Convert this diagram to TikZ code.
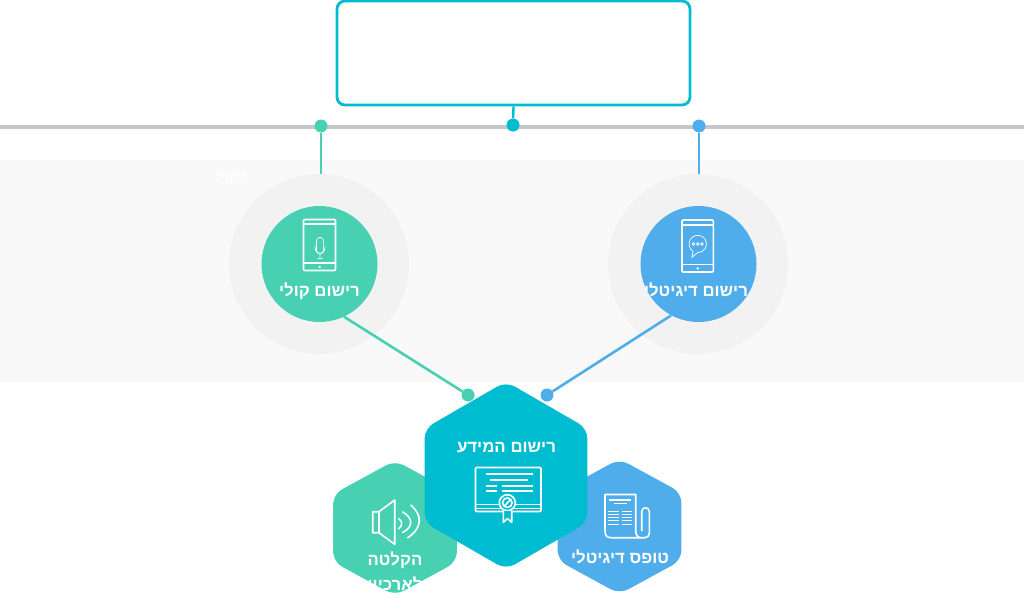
\documentclass[tikz,border=0pt]{standalone}
\usepackage{fontspec}
\usepackage{tikz}
\usetikzlibrary{shapes.geometric,positioning,calc}
\TeXXeTstate=1
\newfontfamily\hebfont[Script=Hebrew]{Liberation Sans}
\definecolor{tealc}{HTML}{00BCD1}
\definecolor{greenc}{HTML}{47D0B2}
\definecolor{bluec}{HTML}{4FADEC}
\definecolor{railc}{HTML}{C4C8CE}
\definecolor{bandc}{HTML}{F9F9F9}
\definecolor{haloc}{HTML}{F2F2F2}

\begin{document}
\begin{tikzpicture}[
    x=1pt, y=-1pt,
    halo/.style={circle, fill=haloc, minimum size=180pt, inner sep=0pt},
    disc/.style={circle, minimum size=116pt, inner sep=0pt},
    dot/.style={circle, minimum size=13pt, inner sep=0pt},
    bighex/.style={regular polygon, regular polygon sides=6, shape border rotate=30, fill=tealc, minimum size=188pt, inner sep=0pt, rounded corners=10pt},
    smallhex/.style={regular polygon, regular polygon sides=6, shape border rotate=30, minimum size=143pt, inner sep=0pt, rounded corners=10pt, yscale=0.945, transform shape},
    label/.style={text=white, font=\hebfont\bfseries\fontsize{16.8}{20}\selectfont, inner sep=0pt},
    icon/.style={draw=white, line width=1.6pt, line join=round},
    thinicon/.style={draw=white, line width=0.7pt}
]
\useasboundingbox (0,0) rectangle (1024,608);

% Band and rail
\fill[bandc] (0,160) rectangle (1024,382);
\draw[railc, line width=3.5pt] (0,127) -- (1024,127);

% Top box and dots
\node[draw=tealc, line width=2.8pt, fill=white, rounded corners=8pt, minimum width=353pt, minimum height=104pt] (topbox) at (513.5,53) {};
\node[dot, fill=greenc] (dotvoice) at (321,126) {};
\node[dot, fill=tealc] (dotmid) at (513,125) {};
\node[dot, fill=bluec] (dotdigital) at (699,126) {};

% Circles
\node[halo] (halovoice) at (319,264) {};
\node[halo] (halodigital) at (698,264) {};
\node[disc, fill=greenc] (voice) at (319.5,264) {};
\node[disc, fill=bluec] (digital) at (698.5,264) {};
\node[label, font=\hebfont\bfseries\fontsize{14}{16}\selectfont] (lakol) at (231,177) {\beginR לקול\endR};

% Hexagons
\node[smallhex, fill=greenc] (hexrec) at (395,528) {};
\node[smallhex, fill=bluec] (hexform) at (619.5,526.5) {};
\node[bighex] (hexinfo) at (506,475.5) {};
\node[dot, fill=greenc] (dotleft) at (468,395) {};
\node[dot, fill=bluec] (dotright) at (547,395) {};

% Connectors
\draw[tealc, line width=2.4pt] (topbox.south) -- (dotmid);
\draw[greenc, line width=2.6pt] (dotvoice) -- (dotvoice |- halovoice.north);
\draw[bluec, line width=2.6pt] (dotdigital) -- (dotdigital |- halodigital.north);
\draw[greenc, line width=2.6pt] (voice.-65) -- (dotleft);
\draw[bluec, line width=2.6pt] (digital.-118) -- (dotright);

% Labels
\node[label] (lblvoice) at (319.5,291) {\beginR רישום קולי\endR};
\node[label] (lbldigital) at (696,290) {\beginR רישום דיגיטלי\endR};
\node[label] (lblinfo) at (506.5,447.5) {\beginR רישום המידע\endR};
\node[label] (lblform) at (620,557) {\beginR טופס דיגיטלי\endR};
\node[label] (lblrec) at (395,560.5) {\beginR הקלטה\endR};
\node[label] (lblrec2) at (395,585) {\beginR לארכיון\endR};

% Tablet icon
\draw[icon, rounded corners=1pt] (303.5,219.5) rectangle (335.5,270.5);
\draw[icon] (303.5,224) -- (335.5,224) (303.5,263) -- (335.5,263);
\fill[white] (319.7,267) circle (1.3);
\draw[thinicon, rounded corners=3.4pt] (316.4,237.5) rectangle (323.6,253.5);
\draw[thinicon] (315,246.5) .. controls (315,256) and (325,256) .. (325,246.5) (320,253.5) -- (320,258.8) (317,258.8) -- (323,258.8);

% Phone icon
\draw[icon, rounded corners=1pt] (682,220) rectangle (713.3,272);
\draw[icon] (682,225) -- (713.3,225) (682,264.3) -- (713.3,264.3);
\fill[white] (697.7,268.3) circle (1.3);
\draw[thinicon] (693,251.3) arc[start angle=122.7, end angle=451, radius=8.7] -- (692,257.3) -- cycle;
\foreach \x in {693.4,697.7,702} {
  \draw[thinicon] (\x,244) circle (1.4);
}

% Certificate icon
\draw[icon, rounded corners=1pt] (475.5,467.5) rectangle (541,511.5);
\draw[icon] (475.5,504.3) -- (541,504.3) (475.5,508.3) -- (541,508.3);
\draw[icon] (485.7,474) -- (533.3,474) (490,480) -- (528.3,480) (485.7,486) -- (496.7,486) (502.3,486) -- (533.3,486) (485.7,490.7) -- (496.7,490.7) (502.3,490.7) -- (533.3,490.7);
\draw[icon, fill=tealc] (507.3,502.7) circle (8);
\draw[icon] (507.3,502.7) circle (4.8) (505,505.5) -- (510,500);
\draw[icon, fill=tealc] (503.3,511) -- (503.3,522.3) -- (507.5,518.5) -- (511.7,522.3) -- (511.7,511);

% Paper icon
\draw[icon] (635.7,531) -- (635.7,494.5) -- (605,494.5) -- (605,531) .. controls (605,535.5) and (607,537.7) .. (611,537.7) -- (645,537.7) .. controls (648,537.7) and (649.3,535.5) .. (649.3,533) -- (649.3,511.5) .. controls (649.3,506.5) and (641.7,506.5) .. (641.7,511.5) -- (641.7,531);
\draw[icon] (635.7,531) .. controls (635.7,535) and (638,537.7) .. (641,537.7);
\draw[icon] (609,499.7) -- (631,499.7);
\draw[thinicon, line width=1.2pt] (614,503.7) -- (627,503.7);
\foreach \y in {511.5,514.5,517.5,520.5,524.5} {
  \draw[thinicon, line width=1.1pt] (608.3,\y) -- (619,\y) (621.7,\y) -- (631.7,\y);
}

% Speaker icon
\draw[icon] (372.7,511.7) -- (379,511.7) -- (394.7,500) -- (394.7,544.3) -- (379,532.7) -- (372.7,532.7) -- cycle (379,511.7) -- (379,532.7);
\draw[icon] (398.3,518.3) .. controls (402.8,521) and (402.8,526) .. (398.3,529);
\draw[icon] (402.3,511.7) .. controls (413.5,518) and (413.5,527) .. (402.3,532.7);
\draw[icon] (410.7,505) .. controls (422.7,515) and (422.7,528) .. (407.3,538);
\end{tikzpicture}
\end{document}
